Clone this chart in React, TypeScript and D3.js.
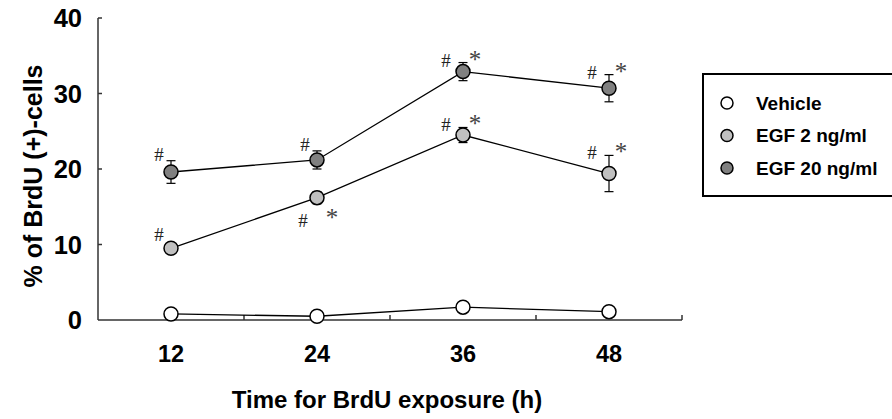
import React, { useEffect, useRef } from 'react'
import * as d3 from 'd3'

// time points (h)
const times = [12, 24, 36, 48]
const yTicks = [0, 10, 20, 30, 40]

// % BrdU(+) cells, mean and error
const vehicleMean = [0.8, 0.5, 1.7, 1.1]
const vehicleErr = [0.2, 0.2, 0.3, 0.2]
const egf2Mean = [9.5, 16.2, 24.5, 19.4]
const egf2Err = [0.4, 0.8, 1.0, 2.4]
const egf20Mean = [19.6, 21.2, 32.9, 30.7]
const egf20Err = [1.5, 1.2, 1.2, 1.8]

// significance marks per time point
const egf2Marks = ['#', '#*', '#*', '#*']
const egf2Below = [false, true, false, false]
const egf20Marks = ['#', '#', '#*', '#*']

const seriesNames = ['Vehicle', 'EGF 2 ng/ml', 'EGF 20 ng/ml']
const seriesFill = ['#ffffff', '#c0c0c0', '#808080']

const W = 892
const H = 419
const margin = { top: 18, right: 210, bottom: 99, left: 98 }

export default function App() {
  const ref = useRef<SVGSVGElement | null>(null)

  useEffect(() => {
    const svg = d3.select(ref.current)
    svg.selectAll('*').remove()

    const x = d3.scaleBand<number>()
      .domain(times)
      .range([margin.left, W - margin.right])
    const y = d3.scaleLinear().domain([0, 40]).range([H - margin.bottom, margin.top])
    const cx = (t: number) => (x(t) as number) + x.bandwidth() / 2

    const bold = 'Arial, "Liberation Sans", sans-serif'
    const serif = '"Times New Roman", "Liberation Serif", serif'

    // axes
    const axisG = svg.append('g').attr('stroke', '#333').attr('stroke-width', 1.5)
    axisG.append('line')
      .attr('x1', margin.left).attr('x2', margin.left)
      .attr('y1', y(40)).attr('y2', y(0))
    axisG.append('line')
      .attr('x1', margin.left).attr('x2', W - margin.right)
      .attr('y1', y(0)).attr('y2', y(0))
    axisG.selectAll('.yt').data(yTicks.filter(d => d > 0)).join('line')
      .attr('x1', margin.left).attr('x2', margin.left + 4)
      .attr('y1', d => y(d)).attr('y2', d => y(d))
    axisG.selectAll('.xt').data(times).join('line')
      .attr('x1', d => (x(d) as number) + x.bandwidth())
      .attr('x2', d => (x(d) as number) + x.bandwidth())
      .attr('y1', y(0)).attr('y2', y(0) - 5)

    svg.append('g').selectAll('text').data(yTicks).join('text')
      .attr('x', 82).attr('y', d => y(d))
      .attr('dy', '0.36em')
      .attr('text-anchor', 'end')
      .attr('font-family', bold).attr('font-weight', 'bold').attr('font-size', 25.5)
      .text(d => d)

    svg.append('g').selectAll('text').data(times).join('text')
      .attr('x', d => cx(d)).attr('y', 354)
      .attr('dy', '0.36em')
      .attr('text-anchor', 'middle')
      .attr('font-family', bold).attr('font-weight', 'bold').attr('font-size', 23.5)
      .text(d => d)

    svg.append('text')
      .attr('x', 387).attr('y', 399)
      .attr('dy', '0.36em')
      .attr('text-anchor', 'middle')
      .attr('font-family', bold).attr('font-weight', 'bold').attr('font-size', 24)
      .text('Time for BrdU exposure (h)')

    svg.append('text')
      .attr('transform', `translate(33,${176}) rotate(-90)`)
      .attr('dy', '0.36em')
      .attr('text-anchor', 'middle')
      .attr('font-family', bold).attr('font-weight', 'bold').attr('font-size', 25)
      .text('% of BrdU (+)-cells')

    const series = [
      { mean: vehicleMean, err: vehicleErr },
      { mean: egf2Mean, err: egf2Err },
      { mean: egf20Mean, err: egf20Err },
    ]

    const line = d3.line<number>().x((_, i) => cx(times[i])).y(d => y(d))

    series.forEach((s, si) => {
      const g = svg.append('g')
      g.append('path').attr('d', line(s.mean)).attr('fill', 'none')
        .attr('stroke', '#000').attr('stroke-width', 1.3)
      s.mean.forEach((m, i) => {
        const px = cx(times[i])
        const top = y(m + s.err[i])
        const bot = y(m - s.err[i])
        g.append('line').attr('x1', px).attr('x2', px).attr('y1', top).attr('y2', bot)
          .attr('stroke', '#000').attr('stroke-width', 1.2)
        ;[top, bot].forEach(v => g.append('line')
          .attr('x1', px - 4.5).attr('x2', px + 4.5).attr('y1', v).attr('y2', v)
          .attr('stroke', '#000').attr('stroke-width', 1.2))
      })
      g.selectAll('circle').data(s.mean).join('circle')
        .attr('cx', (_, i) => cx(times[i])).attr('cy', d => y(d)).attr('r', 7)
        .attr('fill', seriesFill[si]).attr('stroke', '#000').attr('stroke-width', 1.5)
    })

    // significance marks
    const marksG = svg.append('g').attr('font-family', serif)
    const hash = (xx: number, yy: number) => marksG.append('text')
      .attr('x', xx).attr('y', yy).attr('text-anchor', 'middle')
      .attr('font-size', 19).attr('fill', '#222').text('#')
    const star = (xx: number, yy: number) => marksG.append('text')
      .attr('x', xx).attr('y', yy).attr('text-anchor', 'middle')
      .attr('font-size', 25).attr('fill', '#444').text('*')

    const drawMarks = (mean: number[], err: number[], marks: string[], below: boolean[]) => {
      mean.forEach((m, i) => {
        const px = cx(times[i])
        const py = y(m)
        if (below[i]) {
          hash(px - 14, py + 29)
          star(px + 15, py + 28)
          return
        }
        const top = y(m + err[i])
        if (marks[i].includes('*')) {
          hash(px - 17, top + 4)
          star(px + 12, top + 5)
        } else {
          hash(px - 12, Math.min(top, py - 7))
        }
      })
    }
    drawMarks(egf2Mean, egf2Err, egf2Marks, egf2Below)
    drawMarks(egf20Mean, egf20Err, egf20Marks, [false, false, false, false])

    // legend
    const lg = svg.append('g')
    lg.append('rect').attr('x', 703).attr('y', 74).attr('width', 200).attr('height', 122)
      .attr('fill', '#fff').attr('stroke', '#000').attr('stroke-width', 2)
    const ly = d3.scalePoint<string>().domain(seriesNames).range([103, 168])
    seriesNames.forEach((name, i) => {
      lg.append('circle').attr('cx', 727).attr('cy', ly(name) as number).attr('r', 6)
        .attr('fill', seriesFill[i]).attr('stroke', '#000').attr('stroke-width', 1.5)
      lg.append('text').attr('x', 756).attr('y', ly(name) as number).attr('dy', '0.36em')
        .attr('font-family', bold).attr('font-weight', 'bold').attr('font-size', 19)
        .text(name)
    })
  }, [])

  return (
    <svg ref={ref} width={W} height={H}
      style={{ position: 'absolute', left: 0, top: 0, background: '#fff' }} />
  )
}
